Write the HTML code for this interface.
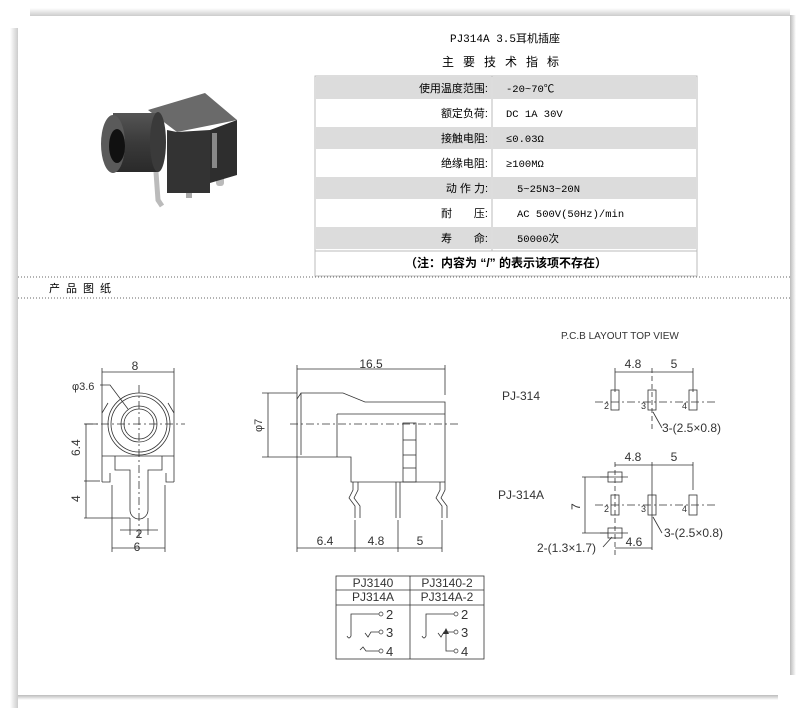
<!DOCTYPE html>
<html><head><meta charset="utf-8"><style>
body{margin:0;width:808px;height:711px;background:#fff;overflow:hidden;font-family:"Liberation Sans","Noto Sans CJK SC",sans-serif}
svg{position:absolute;left:0;top:0}
</style></head><body>
<svg width="808" height="711" viewBox="0 0 808 711" font-family="Liberation Sans, Noto Sans CJK SC, sans-serif">
<defs>
<linearGradient id="gl" x1="0" x2="1"><stop offset="0" stop-color="#fff"/><stop offset="1" stop-color="#ccc"/></linearGradient>
<linearGradient id="gt" y1="0" y2="1" x1="0" x2="0"><stop offset="0" stop-color="#fff"/><stop offset="1" stop-color="#ccc"/></linearGradient>
<linearGradient id="gr" x1="0" x2="1"><stop offset="0" stop-color="#bbb"/><stop offset="1" stop-color="#fff"/></linearGradient>
<linearGradient id="gb" y1="0" y2="1" x1="0" x2="0"><stop offset="0" stop-color="#bbb"/><stop offset="1" stop-color="#fff"/></linearGradient>
<linearGradient id="cyl" x1="0" x2="0" y1="0" y2="1"><stop offset="0" stop-color="#555"/><stop offset="0.5" stop-color="#3a3a3a"/><stop offset="1" stop-color="#2a2a2a"/></linearGradient>
</defs>
<rect x="10" y="28" width="8" height="680" fill="url(#gl)"/>
<rect x="30" y="8" width="760" height="8" fill="url(#gt)"/>
<rect x="790" y="15" width="6" height="660" fill="url(#gr)"/>
<rect x="18" y="695" width="760" height="5" fill="url(#gb)"/>
<!-- photo -->
<g>
<path d="M156 172 L158 200 L162 206" stroke="#bbb" stroke-width="5" fill="none"/>
<rect x="186" y="186" width="6" height="12" fill="#aaa"/>
<rect x="216" y="172" width="8" height="14" rx="3" fill="#bbb"/>
<polygon points="148,110 205,93 237,120 177,132" fill="#6a6a6a"/>
<polygon points="210,130 237,120 237,175 210,183" fill="#2e2e2e"/>
<polygon points="167,130 177,132 210,130 210,193 167,193" fill="#333"/>
<rect x="212" y="133" width="5" height="35" fill="#888"/>
<path d="M113 113 H158 V172 H113 Z" fill="url(#cyl)"/>
<ellipse cx="158" cy="142" rx="8" ry="30" fill="#3a3a3a"/>
<ellipse cx="113" cy="144" rx="12" ry="29" fill="#5a5a5a"/>
<ellipse cx="117" cy="146" rx="8" ry="17" fill="#111"/>
</g>
<text x="505" y="42" font-size="11" text-anchor="middle" font-family="Liberation Mono, Noto Sans CJK SC, monospace">PJ314A 3.5耳机插座</text>
<text x="505" y="66" font-size="12" text-anchor="middle" letter-spacing="9">主要技术指标</text>
<g font-size="11">
<rect x="315" y="76" width="382" height="200" fill="none" stroke="#bbb"/>
<rect x="316" y="77" width="175" height="22" fill="#dcdcdc"/><rect x="493" y="77" width="203" height="22" fill="#dcdcdc"/>
<rect x="316" y="127" width="175" height="22" fill="#dcdcdc"/><rect x="493" y="127" width="203" height="22" fill="#dcdcdc"/>
<rect x="316" y="177" width="175" height="22" fill="#dcdcdc"/><rect x="493" y="177" width="203" height="22" fill="#dcdcdc"/>
<rect x="316" y="227" width="175" height="22" fill="#dcdcdc"/><rect x="493" y="227" width="203" height="22" fill="#dcdcdc"/>
<line x1="492" y1="76" x2="492" y2="251" stroke="#bbb"/>
<line x1="315" y1="251" x2="697" y2="251" stroke="#bbb"/>
<g text-anchor="end">
<text x="488" y="92">使用温度范围:</text>
<text x="488" y="117">额定负荷:</text>
<text x="488" y="142">接触电阻:</text>
<text x="488" y="167">绝缘电阻:</text>
<text x="488" y="192">动 作 力:</text>
<text x="488" y="217">耐　　压:</text>
<text x="488" y="242">寿　　命:</text>
</g>
<g font-family="Liberation Mono, Noto Sans CJK SC, monospace" font-size="10.5">
<text x="506" y="92">-20~70℃</text>
<text x="506" y="117">DC 1A 30V</text>
<text x="506" y="142">≤0.03Ω</text>
<text x="506" y="167">≥100MΩ</text>
<text x="517" y="192">5~25N3~20N</text>
<text x="517" y="217">AC 500V(50Hz)/min</text>
<text x="517" y="242">50000次</text>
</g>
<text x="506" y="267" text-anchor="middle" font-size="12" font-weight="bold">（注：内容为 “/” 的表示该项不存在）</text>
</g>
<line x1="18" y1="277" x2="790" y2="277" stroke="#666" stroke-dasharray="1,2"/>
<line x1="18" y1="298" x2="790" y2="298" stroke="#666" stroke-dasharray="1,2"/>
<text x="49" y="292" font-size="11" letter-spacing="6">产品图纸</text>

<g stroke="#333" stroke-width="0.8" fill="none">
<line x1="102" y1="368" x2="102" y2="413"/><line x1="174" y1="368" x2="174" y2="413"/>
<line x1="102" y1="372" x2="174" y2="372"/>
<path d="M102 413 L108 403 M174 413 L168 403"/>
<line x1="102" y1="413" x2="102" y2="482"/><line x1="174" y1="413" x2="174" y2="482"/>
<circle cx="139" cy="424" r="31"/><circle cx="139" cy="424" r="28"/>
<circle cx="139" cy="424" r="18"/><circle cx="139" cy="424" r="15"/>
<line x1="102" y1="456" x2="174" y2="456"/>
<path d="M115 456 V470 H130 V510 A9 9 0 0 0 148 510 V470 H162 V456"/>
<path d="M102 482 H110 V473 M174 482 H166 V473"/>
<line x1="112" y1="485" x2="112" y2="552"/><line x1="165" y1="485" x2="165" y2="552"/>
<line x1="130" y1="518" x2="130" y2="535"/><line x1="148" y1="518" x2="148" y2="535"/>
<line x1="112" y1="548" x2="165" y2="548"/>
<line x1="120" y1="530" x2="158" y2="530"/>
<line x1="84" y1="424" x2="98" y2="424"/><line x1="84" y1="481" x2="100" y2="481"/><line x1="84" y1="518" x2="130" y2="518"/>
<line x1="86" y1="424" x2="86" y2="518"/>
<path d="M100 385 H110 L128 409"/>
<g stroke-dasharray="8,3,2,3"><line x1="85" y1="424" x2="185" y2="424"/><line x1="139" y1="385" x2="139" y2="540"/></g>
<line x1="297" y1="365" x2="297" y2="552"/><line x1="445" y1="365" x2="445" y2="395"/>
<line x1="297" y1="369" x2="445" y2="369"/>
<path d="M297 399 L301 393 H343 L365 402 H445 V482 M301 393 V455 M297 457 H351 V482 H445"/>
<line x1="337" y1="414" x2="445" y2="414"/><line x1="337" y1="414" x2="337" y2="457"/>
<rect x="403" y="423" width="13" height="59"/>
<line x1="403" y1="440" x2="416" y2="440"/><line x1="403" y1="455" x2="416" y2="455"/><line x1="403" y1="468" x2="416" y2="468"/>
<line x1="262" y1="393" x2="297" y2="393"/><line x1="262" y1="457" x2="297" y2="457"/><line x1="268" y1="393" x2="268" y2="457"/>
<path d="M353 482 V490 L349 498 L355 506 V518 M358 482 V490 L354 498 L360 506 V518"/>
<path d="M396 482 V518 M400 482 V518"/>
<path d="M440 482 V490 L436 498 L442 506 V518 M445 482 V490 L441 498 L447 506 V518"/>
<line x1="355" y1="520" x2="355" y2="552"/><line x1="398" y1="520" x2="398" y2="552"/><line x1="442" y1="520" x2="442" y2="552"/>
<line x1="297" y1="548" x2="442" y2="548"/>
<line x1="290" y1="424" x2="460" y2="424" stroke-dasharray="8,3,2,3"/>
<line x1="615" y1="368" x2="615" y2="392"/><line x1="652" y1="368" x2="652" y2="430" stroke-dasharray="5,3"/><line x1="693" y1="368" x2="693" y2="392"/>
<line x1="615" y1="372" x2="693" y2="372"/>
<line x1="595" y1="402" x2="715" y2="402" stroke-dasharray="8,3,2,3"/>
<rect x="611" y="390" width="8" height="20"/><rect x="648" y="390" width="8" height="20"/><rect x="689" y="390" width="8" height="20"/>
<path d="M653 412 L662 428"/>
<line x1="615" y1="462" x2="615" y2="555" stroke-dasharray="5,3"/><line x1="652" y1="462" x2="652" y2="550"/><line x1="693" y1="462" x2="693" y2="490"/>
<line x1="615" y1="465" x2="693" y2="465"/>
<line x1="595" y1="505" x2="715" y2="505" stroke-dasharray="8,3,2,3"/>
<rect x="611" y="495" width="8" height="20"/><rect x="648" y="495" width="8" height="20"/><rect x="689" y="495" width="8" height="20"/>
<rect x="608" y="472" width="14" height="10"/><rect x="608" y="528" width="14" height="10"/>
<line x1="600" y1="477" x2="628" y2="477"/><line x1="600" y1="533" x2="628" y2="533"/>
<line x1="582" y1="477" x2="608" y2="477"/><line x1="582" y1="533" x2="608" y2="533"/><line x1="585" y1="477" x2="585" y2="533"/>
<line x1="615" y1="548" x2="652" y2="548"/>
<path d="M653 517 L662 533"/><path d="M612 537 L603 547"/>
<rect x="336" y="576" width="148" height="83"/>
<line x1="410" y1="576" x2="410" y2="659"/>
<line x1="336" y1="590" x2="484" y2="590"/><line x1="336" y1="605" x2="484" y2="605"/>
<path d="M347 636 Q349 640 351 636 V614 H379"/><path d="M365 633 L368 637 L371 632 H379"/><path d="M360 650 L363 647 L366 651 H379"/>
<path d="M422 636 Q424 640 426 636 V614 H454"/><path d="M438 633 L441 637 L444 632 H454"/><path d="M446 632 V651 H454"/>
</g>
<g fill="#333"><polygon points="446,628 443,634 449,634"/>
<circle cx="381" cy="614" r="2" fill="none" stroke="#333" stroke-width="0.7"/><circle cx="381" cy="632" r="2" fill="none" stroke="#333" stroke-width="0.7"/><circle cx="381" cy="651" r="2" fill="none" stroke="#333" stroke-width="0.7"/>
<circle cx="456" cy="614" r="2" fill="none" stroke="#333" stroke-width="0.7"/><circle cx="456" cy="632" r="2" fill="none" stroke="#333" stroke-width="0.7"/><circle cx="456" cy="651" r="2" fill="none" stroke="#333" stroke-width="0.7"/>
</g>
<g font-size="11" fill="#333">
<text x="135" y="370" text-anchor="middle" font-size="12">8</text>
<text x="72" y="390" font-size="11">φ3.6</text>
<text x="80" y="456" font-size="12" transform="rotate(-90 80 456)">6.4</text>
<text x="80" y="502" font-size="12" transform="rotate(-90 80 502)">4</text>
<text x="139" y="538" text-anchor="middle" font-size="12">2</text>
<text x="137" y="551" text-anchor="middle" font-size="12">6</text>
<text x="371" y="368" text-anchor="middle" font-size="12">16.5</text>
<text x="262" y="432" font-size="11" transform="rotate(-90 262 432)">φ7</text>
<text x="325" y="545" text-anchor="middle" font-size="12">6.4</text>
<text x="376" y="545" text-anchor="middle" font-size="12">4.8</text>
<text x="420" y="545" text-anchor="middle" font-size="12">5</text>
<text x="561" y="339" font-size="10">P.C.B LAYOUT    TOP  VIEW</text>
<text x="502" y="400" font-size="12">PJ-314</text>
<text x="498" y="499" font-size="12">PJ-314A</text>
<text x="633" y="368" text-anchor="middle" font-size="12">4.8</text>
<text x="674" y="368" text-anchor="middle" font-size="12">5</text>
<text x="633" y="461" text-anchor="middle" font-size="12">4.8</text>
<text x="674" y="461" text-anchor="middle" font-size="12">5</text>
<text x="604" y="409" font-size="9">2</text><text x="641" y="409" font-size="9">3</text><text x="682" y="409" font-size="9">4</text>
<text x="604" y="512" font-size="9">2</text><text x="641" y="512" font-size="9">3</text><text x="682" y="512" font-size="9">4</text>
<text x="662" y="432" font-size="12">3-(2.5×0.8)</text>
<text x="664" y="537" font-size="12">3-(2.5×0.8)</text>
<text x="580" y="510" font-size="12" transform="rotate(-90 580 510)">7</text>
<text x="537" y="552" font-size="12">2-(1.3×1.7)</text>
<text x="634" y="546" text-anchor="middle" font-size="12">4.6</text>
<text x="373" y="587" text-anchor="middle" font-size="12">PJ3140</text>
<text x="447" y="587" text-anchor="middle" font-size="12">PJ3140-2</text>
<text x="373" y="601" text-anchor="middle" font-size="12">PJ314A</text>
<text x="447" y="601" text-anchor="middle" font-size="12">PJ314A-2</text>
<text x="386" y="619" font-size="13">2</text><text x="386" y="637" font-size="13">3</text><text x="386" y="656" font-size="13">4</text>
<text x="461" y="619" font-size="13">2</text><text x="461" y="637" font-size="13">3</text><text x="461" y="656" font-size="13">4</text>
</g>
</svg>
</body></html>
